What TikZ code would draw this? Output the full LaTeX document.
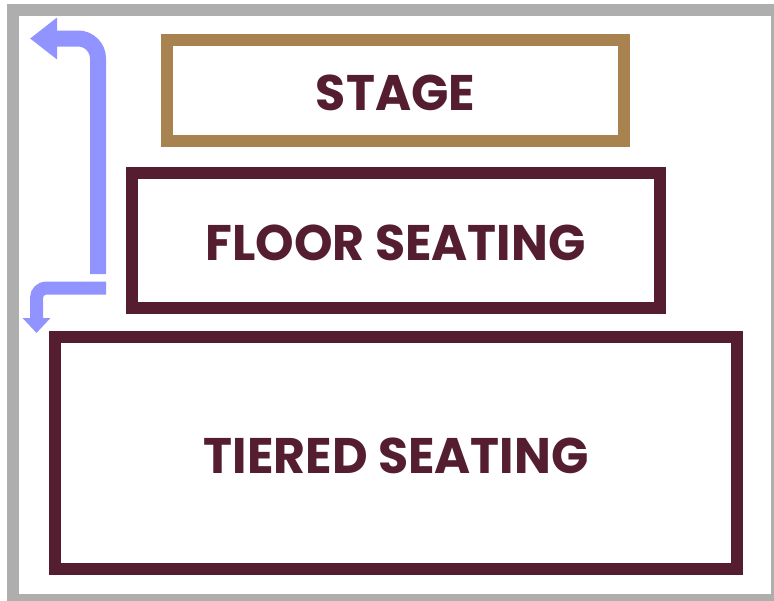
\documentclass[tikz,border=0pt]{standalone}
\usepackage{fontspec}
\usepackage{xcolor}
\usepackage{tikz}
\usetikzlibrary{arrows.meta}
\newfontfamily\venuefont{Poppins}[FakeStretch=0.98]
\definecolor{vnMaroon}{HTML}{541E30}
\definecolor{vnBrass}{HTML}{A8834F}
\definecolor{vnFlow}{HTML}{9193FF}
\definecolor{vnWall}{HTML}{AEAEAE}
\tikzset{
  vn plan/.style={x=1pt, y=-1pt, font=\venuefont\bfseries\fontsize{50}{50}\selectfont,
    text=vnMaroon},
  vn box/.style={draw=vnMaroon, line width=12pt, fill=white, inner sep=0pt,
    text height=41pt, text depth=0pt},
  vn stage/.style={vn box, draw=vnBrass},
  vn wall/.style={draw=vnWall, line width=12pt},
  vn flow/.style={draw=vnFlow, line width=16pt, rounded corners=20pt,
    -{Triangle[length=27pt,width=40pt]}},
  vn flow small/.style={vn flow, line width=13pt, rounded corners=10pt,
    -{Triangle[length=15pt,width=27pt]}}
}
\begin{document}
\begin{tikzpicture}[vn plan]
\useasboundingbox (0,0) rectangle (774,600);
\draw[vn wall] (13,10) rectangle (777,600);
% seating blocks
\node[vn stage, minimum width=457pt, minimum height=101pt] (stage) at (395.5,90) {STAGE};
\node[vn box, minimum width=528pt, minimum height=135pt] (floor) at (395.5,240) {FLOOR SEATING};
\node[vn box, minimum width=682pt, minimum height=232pt] (tiered) at (396,453) {TIERED SEATING};
% circulation
\coordinate (exit up start) at (98,274);
\coordinate (exit up turn) at (98,38.5);
\coordinate (exit up end) at (30,38.5);
\coordinate (exit down start) at (106,288);
\coordinate (exit down turn) at (36.5,288);
\coordinate (exit down end) at (36.5,333);
\draw[vn flow] (exit up start) -- (exit up turn) -- (exit up end);
\draw[vn flow small] (exit down start) -- (exit down turn) -- (exit down end);
\end{tikzpicture}
\end{document}
